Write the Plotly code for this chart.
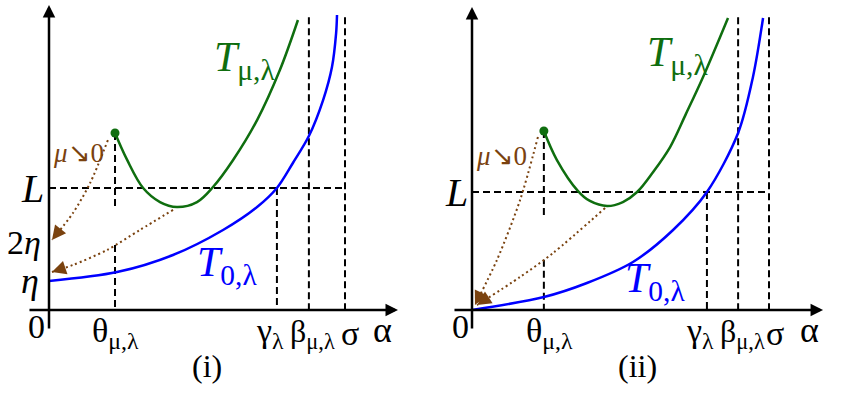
import numpy as np
import plotly.graph_objects as go

W, H = 847, 413

# ---------------- DATA (alpha in units of sigma, T in units of L) ----------------
# Panel (i)
theta_i, gamma_i, beta_i, sigma_i = 0.223, 0.770, 0.878, 1.0
L_i, eta_i, two_eta_i = 1.0, 0.238, 0.541
top_i = 2.40
blue_i_a = [0.0, 0.230, 0.419, 0.588, 0.703, 0.770, 0.824, 0.878, 0.926, 0.956, 0.970, 0.973]
blue_i_t = [0.238, 0.311, 0.451, 0.656, 0.844, 1.0, 1.205, 1.426, 1.721, 1.992, 2.270, 2.418]
green_i_a = [0.223, 0.264, 0.318, 0.375, 0.432, 0.500, 0.554, 0.622, 0.703, 0.780, 0.841]
green_i_t = [1.451, 1.230, 1.0, 0.885, 0.844, 0.885, 1.008, 1.230, 1.557, 1.967, 2.377]
limA_i_a = [0.199, 0.139, 0.081, 0.010]
limA_i_t = [1.393, 1.041, 0.795, 0.574]
limB_i_a = [0.419, 0.307, 0.196, 0.081, 0.010]
limB_i_t = [0.820, 0.656, 0.492, 0.369, 0.311]
theta_dash_end_i = 0.820

# Panel (ii)
theta_ii, gamma_ii, beta_ii, sigma_ii = 0.242, 0.791, 0.896, 1.0
L_ii = 1.0
top_ii = 2.48
blue_ii_a = [0.0, 0.242, 0.387, 0.542, 0.677, 0.791, 0.896, 0.946, 0.980]
blue_ii_t = [0.0, 0.110, 0.229, 0.407, 0.678, 1.0, 1.5, 1.975, 2.475]
green_ii_a = [0.242, 0.286, 0.357, 0.397, 0.455, 0.508, 0.556, 0.610, 0.667, 0.720, 0.778, 0.862]
green_ii_t = [1.517, 1.271, 1.008, 0.924, 0.881, 0.915, 1.0, 1.170, 1.381, 1.660, 1.975, 2.475]
limA_ii_a = [0.222, 0.162, 0.084, 0.010]
limA_ii_t = [1.466, 0.932, 0.424, 0.042]
limB_ii_a = [0.448, 0.273, 0.162, 0.017]
limB_ii_t = [0.864, 0.483, 0.280, 0.042]
theta_dash_end_ii = 0.805

# ---------------- LAYOUT constants (pixel calibration of each panel) ----------------
CAL = {
    "i": dict(x0=49, sx=296, y0=310, sy=122, xlo=-0.071, xhi=1.179, ylo=-0.164, yhi=2.50),
    "ii": dict(x0=472, sx=297, y0=310, sy=118, xlo=-0.064, xhi=1.182, ylo=-0.169, yhi=2.568),
}
SERIF = "Liberation Serif"
BLUE, GREEN, BROWN = "#0000ff", "#0f6e0f", "#7a420f"
DASH = "7px,4px"

fig = go.Figure()
annotations = []


def panel(key, xa, ya, theta, gamma, beta, sigma, L, top, ba, bt, ga, gt,
          la_a, la_t, lb_a, lb_t, theta_end):
    c = CAL[key]
    ref = dict(xaxis=xa, yaxis=ya)
    axr = "x" if xa == "x" else "x2"
    ayr = "y" if ya == "y" else "y2"

    def dash(xs, ys):
        fig.add_trace(go.Scatter(x=xs, y=ys, mode="lines", hoverinfo="skip",
                                 line=dict(color="black", width=2, dash=DASH), **ref))

    # dashed guide lines
    lb_cross = float(np.interp(theta, lb_a[::-1], lb_t[::-1]))
    dash([theta, theta], [gt[0], theta_end])
    dash([theta, theta], [lb_cross, 0])
    dash([0, sigma], [L, L])
    dash([gamma, gamma], [L, 0])
    dash([beta, beta], [top, 0])
    dash([sigma, sigma], [top, 0])

    # curves
    fig.add_trace(go.Scatter(x=ba, y=bt, mode="lines", line=dict(color=BLUE, width=2.5, shape="spline", smoothing=0.9),
                             hoverinfo="skip", **ref))
    fig.add_trace(go.Scatter(x=ga, y=gt, mode="lines", line=dict(color=GREEN, width=2.5, shape="spline", smoothing=1.0),
                             hoverinfo="skip", **ref))
    fig.add_trace(go.Scatter(x=[ga[0]], y=[gt[0]], mode="markers", marker=dict(color=GREEN, size=9),
                             hoverinfo="skip", **ref))

    # dotted limit arrows
    for aa, tt in ((la_a, la_t), (lb_a, lb_t)):
        fig.add_trace(go.Scatter(x=aa, y=tt, mode="lines", hoverinfo="skip",
                                 line=dict(color=BROWN, width=2, dash="2px,3px", shape="spline", smoothing=0.8), **ref))
        dx = (aa[-1] - aa[-2]) * c["sx"]
        dy = -(tt[-1] - tt[-2]) * c["sy"]
        n = (dx * dx + dy * dy) ** 0.5
        annotations.append(dict(x=aa[-1], y=tt[-1], xref=axr, yref=ayr, ax=-dx / n * 6, ay=-dy / n * 6,
                                text="", showarrow=True, arrowhead=2, arrowsize=1.4, arrowwidth=2,
                                arrowcolor=BROWN, standoff=0))

    # coordinate axes with arrows
    annotations.append(dict(x=c["xhi"], y=0, ax=c["xlo"], ay=0, xref=axr, yref=ayr, axref=axr, ayref=ayr,
                            text="", showarrow=True, arrowhead=2, arrowsize=1, arrowwidth=2.5, arrowcolor="black"))
    annotations.append(dict(x=0, y=c["yhi"], ax=0, ay=c["ylo"], xref=axr, yref=ayr, axref=axr, ayref=ayr,
                            text="", showarrow=True, arrowhead=2, arrowsize=1, arrowwidth=2.5, arrowcolor="black"))


panel("i", "x", "y", theta_i, gamma_i, beta_i, sigma_i, L_i, top_i, blue_i_a, blue_i_t, green_i_a, green_i_t,
      limA_i_a, limA_i_t, limB_i_a, limB_i_t, theta_dash_end_i)
panel("ii", "x2", "y2", theta_ii, gamma_ii, beta_ii, sigma_ii, L_ii, top_ii, blue_ii_a, blue_ii_t, green_ii_a,
      green_ii_t, limA_ii_a, limA_ii_t, limB_ii_a, limB_ii_t, theta_dash_end_ii)


def lab(px, py, text, size, color="black"):
    annotations.append(dict(x=px / W, y=1 - py / H, xref="paper", yref="paper", text=text, showarrow=False,
                            xanchor="center", yanchor="middle",
                            font=dict(family=SERIF, size=size, color=color)))


def xt(xref, val, shift, text, size=34, py=333):
    annotations.append(dict(x=val, y=1 - py / H, xref=xref, yref="paper", text=text, showarrow=False,
                            xanchor="center", yanchor="middle", xshift=shift,
                            font=dict(family=SERIF, size=size, color="black")))


def yt(yref, val, px, shift, text, size=36):
    annotations.append(dict(x=px / W, y=val, xref="paper", yref=yref, text=text, showarrow=False,
                            xanchor="center", yanchor="middle", yshift=shift,
                            font=dict(family=SERIF, size=size, color="black")))


# panel (i) labels
lab(245, 60, "<i>T</i><sub>μ,λ</sub>", 42, GREEN)
lab(227, 265, "<i>T</i><sub>0,λ</sub>", 42, BLUE)
lab(78, 153, "<i>μ</i>↘0", 27, BROWN)
yt("y", L_i, 32, 0, "<i>L</i>", 40)
yt("y", two_eta_i, 24, 2, "2<i>η</i>", 34)
yt("y", eta_i, 30, 0, "<i>η</i>", 36)
lab(36, 326, "0", 34)
xt("x", theta_i, 0, "θ<sub>μ,λ</sub>")
xt("x", gamma_i, -7, "γ<sub>λ</sub>")
xt("x", beta_i, 4, "β<sub>μ,λ</sub>", 32)
xt("x", sigma_i, 5, "σ")
lab(382, 330, "α", 36)
lab(207, 366, "(i)", 32)

# panel (ii) labels
lab(677, 55, "<i>T</i><sub>μ,λ</sub>", 42, GREEN)
lab(655, 281, "<i>T</i><sub>0,λ</sub>", 42, BLUE)
lab(502, 156, "<i>μ</i>↘0", 27, BROWN)
yt("y2", L_ii, 456, 0, "<i>L</i>", 40)
lab(460, 326, "0", 34)
xt("x2", theta_ii, 6, "θ<sub>μ,λ</sub>")
xt("x2", gamma_ii, -7, "γ<sub>λ</sub>")
xt("x2", beta_ii, 4, "β<sub>μ,λ</sub>", 32)
xt("x2", sigma_ii, 6, "σ")
lab(809, 330, "α", 36)
lab(637, 366, "(ii)", 32)


def rng(c):
    return ([-c["x0"] / c["sx"], (W - c["x0"]) / c["sx"]],
            [-(H - c["y0"]) / c["sy"], c["y0"] / c["sy"]])


(xr1, yr1), (xr2, yr2) = rng(CAL["i"]), rng(CAL["ii"])
fig.update_layout(
    width=W, height=H, autosize=False, margin=dict(l=0, r=0, t=0, b=0),
    paper_bgcolor="white", plot_bgcolor="white", showlegend=False,
    xaxis=dict(domain=[0, 1], range=xr1, visible=False, anchor="y"),
    yaxis=dict(domain=[0, 1], range=yr1, visible=False, anchor="x"),
    xaxis2=dict(range=xr2, visible=False, overlaying="x", anchor="y2"),
    yaxis2=dict(range=yr2, visible=False, overlaying="y", anchor="x2"),
    annotations=annotations,
)
fig.write_html("out.html")
